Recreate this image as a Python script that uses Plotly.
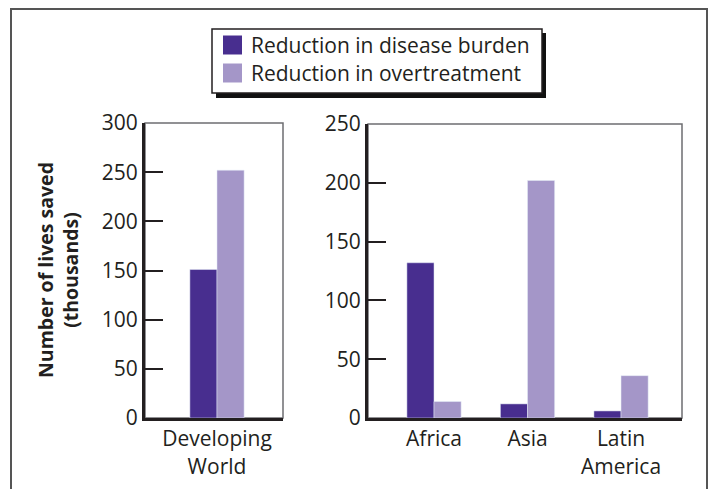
import plotly.graph_objects as go

# ---- data ----
world_cats = ["Developing<br>World"]
region_cats = ["Africa", "Asia", "Latin<br>America"]
series_names = ["Reduction in disease burden", "Reduction in overtreatment"]
world_burden = [151]
world_overtreat = [252]
region_burden = [132, 12, 6]
region_overtreat = [14, 202, 36]
left_ticks = [0, 50, 100, 150, 200, 250, 300]
right_ticks = [0, 50, 100, 150, 200, 250]

colors = ["#482E8F", "#A496C8"]
W, H = 700, 481
OX, OY = 8, 8           # page offset of the figure inside the photographed window
FONT = "Open Sans"
TXT = "#231f20"
FS = 21

def px(x):
    return (x - OX) / W

def py(y):
    return 1 - (y - OY) / H

fig = go.Figure()
fig.add_trace(go.Bar(x=world_cats, y=world_burden, marker_color=colors[0], name=series_names[0],
                     xaxis="x", yaxis="y", offsetgroup="a", showlegend=False))
fig.add_trace(go.Bar(x=world_cats, y=world_overtreat, marker_color=colors[1], name=series_names[1],
                     xaxis="x", yaxis="y", offsetgroup="b", showlegend=False))
fig.add_trace(go.Bar(x=region_cats, y=region_burden, marker_color=colors[0], name=series_names[0],
                     xaxis="x2", yaxis="y2", offsetgroup="a", showlegend=False))
fig.add_trace(go.Bar(x=region_cats, y=region_overtreat, marker_color=colors[1], name=series_names[1],
                     xaxis="x2", yaxis="y2", offsetgroup="b", showlegend=False))

axis_common = dict(showline=True, linewidth=3, linecolor=TXT, showgrid=False, zeroline=False,
                   tickfont=dict(family=FONT, size=FS, color=TXT))

fig.update_layout(
    width=W, height=H, margin=dict(l=0, r=0, t=0, b=0, autoexpand=False),
    paper_bgcolor="white", plot_bgcolor="white",
    barmode="group", bargap=0.42, bargroupgap=0,
    xaxis=dict(domain=[px(145), px(283)], range=[-0.77, 0.706], ticks="", anchor="y", **axis_common),
    yaxis=dict(domain=[py(418), py(123)], range=[0, 300], tickvals=left_ticks, ticks="inside",
               ticklen=18, tickwidth=1.5, tickcolor=TXT, anchor="x", **axis_common),
    xaxis2=dict(domain=[px(368), px(682)], range=[-0.706, 2.652], ticks="", anchor="y2", **axis_common),
    yaxis2=dict(domain=[py(418), py(124)], range=[0, 250], tickvals=right_ticks, ticks="inside",
                ticklen=18, tickwidth=1.5, tickcolor=TXT, anchor="x2", **axis_common),
)

shapes = []
# outer frame (open at the bottom, as in the source)
shapes.append(dict(type="rect", xref="paper", yref="paper", x0=px(11), x1=px(707), y0=py(540), y1=py(9),
                   line=dict(color="#555555", width=2), fillcolor="rgba(0,0,0,0)", layer="below"))
for xa, ya in [("x", "y"), ("x2", "y2")]:
    shapes.append(dict(type="rect", xref=f"{xa} domain", yref=f"{ya} domain", x0=0, x1=1, y0=0, y1=1,
                       line=dict(color="#6d6e71", width=1.5), layer="below"))
# legend box with drop shadow
shapes.append(dict(type="rect", xref="paper", yref="paper", x0=px(216), x1=px(546), y0=py(98), y1=py(33),
                   line=dict(width=0), fillcolor="#111111", layer="above"))
shapes.append(dict(type="rect", xref="paper", yref="paper", x0=px(212), x1=px(542), y0=py(93), y1=py(29),
                   line=dict(color=TXT, width=1.5), fillcolor="white", layer="above"))
annotations = []
for i, (name, col) in enumerate(zip(series_names, colors)):
    yc = 45 + i * 28
    shapes.append(dict(type="rect", xref="paper", yref="paper", x0=px(223), x1=px(242),
                       y0=py(yc + 9.5), y1=py(yc - 9.5), line=dict(width=0), fillcolor=col, layer="above"))
    annotations.append(dict(text=name, xref="paper", yref="paper", x=px(249), y=py(yc), xanchor="left",
                            yanchor="middle", showarrow=False, font=dict(family=FONT, size=FS, color=TXT)))

annotations.append(dict(text="<b>Number of lives saved<br>(thousands)</b>", xref="paper", yref="paper",
                        x=px(58), y=py(270), textangle=-90, showarrow=False, xanchor="center", yanchor="middle",
                        font=dict(family=FONT, size=19.5, color=TXT)))

fig.update_layout(shapes=shapes, annotations=annotations)
fig.write_html("out.html")
